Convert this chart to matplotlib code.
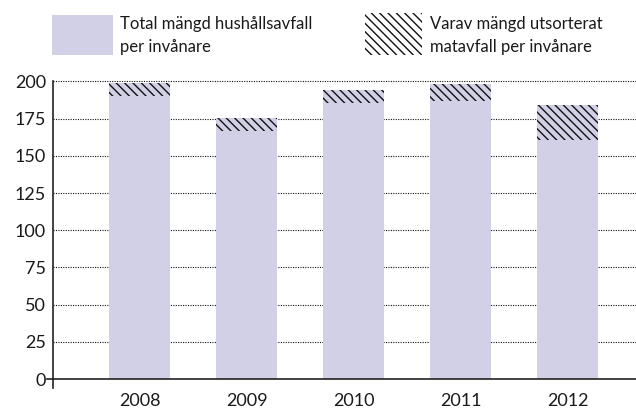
import matplotlib.pyplot as plt
from matplotlib.patches import Rectangle
import numpy as np

years = ['2008', '2009', '2010', '2011', '2012']
total = [199, 175.5, 194, 198, 184]        # kg hushållsavfall per invånare
food = [9, 9, 8.5, 11, 23]                 # varav utsorterat matavfall
yticks = [0, 25, 50, 75, 100, 125, 150, 175, 200]
legend_total = ['Total mängd hushållsavfall', 'per invånare']
legend_food = ['Varav mängd utsorterat', 'matavfall per invånare']

lavender = '#d1d0e7'
ink = '#1a1a1a'
plt.rcParams['font.family'] = ['Lato', 'DejaVu Sans']
plt.rcParams['hatch.linewidth'] = 1.0

W, H = 636, 409
fig = plt.figure(figsize=(6.36, 4.09), dpi=100)
ax = fig.add_axes([53 / W, 21 / H, 583 / W, 308 / H])

x = np.arange(len(years))
ax.bar(x, total, width=0.57, color=lavender, zorder=2)
base = [t - f for t, f in zip(total, food)]
ax.bar(x, food, bottom=base, width=0.57, facecolor='none', edgecolor='#111111',
       hatch='\\\\\\\\', linewidth=0, zorder=3)

ax.set_xlim(-0.81, 4.64)
ax.set_ylim(-6, 201)
ax.set_yticks(yticks)
ax.set_xticks(x)
ax.set_xticklabels(years)
ax.tick_params(axis='both', length=0, labelsize=13, colors=ink)
ax.tick_params(axis='y', pad=5)
ax.tick_params(axis='x', pad=10)

for v in yticks[1:]:
    ax.axhline(v, color='#111111', linestyle=(0, (1, 1.2)), linewidth=0.8, zorder=1)

for s in ['top', 'right']:
    ax.spines[s].set_visible(False)
ax.spines['bottom'].set_position(('data', 0))
ax.spines['left'].set_bounds(-6, 200)
for s in ['bottom', 'left']:
    ax.spines[s].set_color('#222222')
    ax.spines[s].set_linewidth(1.2)
# liten tick vid 0
ax.plot([-0.011, 0], [0, 0], transform=ax.get_yaxis_transform(), color='#222222',
        linewidth=1.2, clip_on=False)

# legend
fig.patches.append(Rectangle((52 / W, 1 - 55 / H), 61 / W, 40 / H,
                             transform=fig.transFigure, facecolor=lavender, edgecolor='none'))
fig.patches.append(Rectangle((365 / W, 1 - 55 / H), 57 / W, 42 / H,
                             transform=fig.transFigure, facecolor='none', edgecolor='#111111',
                             hatch='\\\\\\\\', linewidth=0))
for xpos, lines in [(120, legend_total), (430, legend_food)]:
    for base_y, line in zip([29, 52], lines):
        fig.text(xpos / W, 1 - base_y / H, line, fontsize=12, color=ink, va='baseline')

plt.savefig('out.png', dpi=100)
plt.close()
